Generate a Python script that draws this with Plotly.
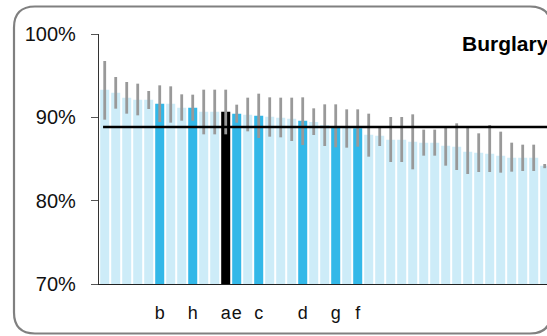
import plotly.graph_objects as go

# ---- data ----
values = [93.3, 92.96, 92.36, 92.12, 92.12, 91.64, 91.64, 91.16, 91.16, 90.68,
          90.68, 90.68, 90.44, 90.32, 90.2, 90.08, 89.96, 89.84, 89.6, 89.44,
          89.08, 88.84, 88.76, 88.68, 87.92, 87.8, 87.32, 87.32, 87.08, 86.96,
          86.96, 86.6, 86.48, 85.88, 85.76, 85.64, 85.4, 85.16, 85.16, 85.16,
          84.2]
upper = [96.76, 94.84, 94.24, 94.04, 93.16, 93.84, 93.72, 92.76, 92.72, 93.32,
         93.32, 93.32, 91.52, 92.36, 92.84, 92.4, 92.36, 92.36, 92.4, 91.08,
         91.56, 91.56, 90.96, 90.96, 90.44, 88.8, 90.04, 90.04, 90.36, 88.52,
         88.52, 88.8, 89.28, 88.8, 88.08, 89.08, 88.28, 86.96, 86.72, 86.72,
         84.4]
lower = [89.72, 91.04, 90.44, 90.24, 91.0, 89.44, 89.36, 89.6, 89.6, 87.96,
         87.96, 87.96, 89.36, 88.32, 87.52, 87.68, 87.6, 87.16, 86.68, 87.88,
         86.56, 86.4, 86.36, 86.48, 85.28, 86.56, 84.64, 84.64, 83.76, 85.4,
         85.4, 84.2, 83.68, 83.2, 83.44, 83.44, 83.36, 83.48, 83.56, 83.56,
         83.9]
labels = ["", "", "", "", "", "b", "", "", "h", "", "", "a", "e", "", "c", "",
          "", "", "d", "", "", "g", "", "f", "", "", "", "", "", "", "", "",
          "", "", "", "", "", "", "", "", ""]
highlight = ["b", "h", "e", "c", "d", "g", "f"]
focus = ["a"]
benchmark = 88.85
title = "Burglary"
y_ticks = [70, 80, 90, 100]

LIGHT = "#cdecf8"
MID = "#33b8e8"
FOCUS = "#000000"

x = list(range(len(values)))
colors = [FOCUS if l in focus else (MID if l in highlight else LIGHT) for l in labels]
err_plus = [u - v for u, v in zip(upper, values)]
err_minus = [v - lo for v, lo in zip(values, lower)]

fig = go.Figure()
fig.add_trace(go.Bar(
    x=x, y=values, marker=dict(color=colors, line=dict(width=0)),
    error_y=dict(type="data", symmetric=False, array=err_plus, arrayminus=err_minus,
                 color="#999999", thickness=2.8, width=0),
    hoverinfo="skip", showlegend=False))
fig.add_trace(go.Scatter(
    x=[-0.15, len(values) + 1], y=[benchmark, benchmark], mode="lines",
    line=dict(color="black", width=2.5), hoverinfo="skip", showlegend=False))

# layout geometry (pixels)
W, H = 547, 336
L, R, T, B = 99, 0, 34, 52
pw, ph = W - L - R, H - T - B

def px(X):
    return (X - L) / pw

def py(Y):
    return (H - B - Y) / ph

# rounded border
x0, x1, y0, y1, r = 14, 551, 6.5, 333.5, 21
path = (f"M {px(x0+r)},{py(y0)} L {px(x1-r)},{py(y0)} Q {px(x1)},{py(y0)} {px(x1)},{py(y0+r)} "
        f"L {px(x1)},{py(y1-r)} Q {px(x1)},{py(y1)} {px(x1-r)},{py(y1)} "
        f"L {px(x0+r)},{py(y1)} Q {px(x0)},{py(y1)} {px(x0)},{py(y1-r)} "
        f"L {px(x0)},{py(y0+r)} Q {px(x0)},{py(y0)} {px(x0+r)},{py(y0)} Z")

FONT = "Liberation Sans, Arial, Helvetica, sans-serif"
tickvals = [i for i, l in enumerate(labels) if l]
ticktext = [l for l in labels if l]

fig.update_layout(
    width=W, height=H,
    margin=dict(l=L, r=R, t=T, b=B, pad=0, autoexpand=False),
    paper_bgcolor="white", plot_bgcolor="white",
    bargap=0.18,
    font=dict(family=FONT, color="#111111"),
    shapes=[dict(type="path", xref="paper", yref="paper", path=path,
                 line=dict(color="#808080", width=2.2), layer="above")],
    annotations=[dict(text=f"<b>{title}</b>", xref="paper", yref="paper",
                      x=px(460), y=py(43.3), xanchor="left", yanchor="middle",
                      showarrow=False, font=dict(size=21, family=FONT, color="#000000"))],
    xaxis=dict(range=[-0.52, (W - 104.7) / 11], tickvals=tickvals, ticktext=ticktext,
               ticks="", showgrid=False, zeroline=False, showline=True,
               linecolor="#222222", linewidth=1.2, tickfont=dict(size=18, family=FONT),
               tickangle=0, automargin=False,
               ticklabelstandoff=12, fixedrange=True),
    yaxis=dict(range=[70, 100], tickvals=y_ticks, ticktext=[f"{v}%" for v in y_ticks],
               ticks="outside", ticklen=7, tickwidth=1.3, tickcolor="#555555",
               showgrid=False, zeroline=False, showline=True, linecolor="#333333",
               linewidth=1.3, tickfont=dict(size=20, family=FONT), automargin=False,
               ticklabelstandoff=11, fixedrange=True),
)

fig.write_html(
    "out.html",
    config={"displayModeBar": False},
    post_script="document.body.style.margin='0';document.body.style.overflow='hidden';",
)
